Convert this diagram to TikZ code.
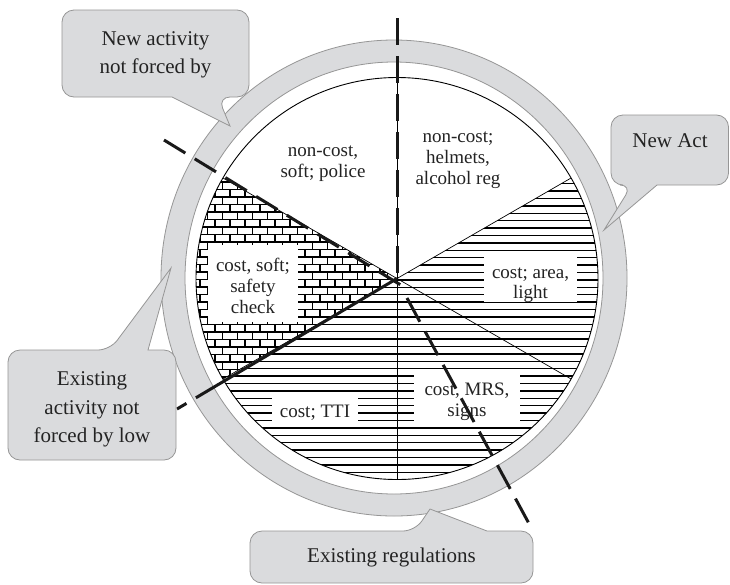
\documentclass[tikz,border=0pt]{standalone}
\usepackage{fontspec}
\setmainfont{Liberation Serif}
\begin{document}
\begin{tikzpicture}[x=1pt,y=-1pt]
\definecolor{ringfill}{RGB}{218,219,221}
\definecolor{ringdraw}{RGB}{150,150,150}
\definecolor{txt}{RGB}{35,35,35}
\definecolor{dashcol}{RGB}{25,25,25}
\tikzset{
 callout/.style={fill=ringfill, draw=ringdraw, line width=0.8pt},
 bigtext/.style={font=\fontsize{21}{28}\selectfont, text=txt, anchor=base, inner sep=0pt},
 pietext/.style={font=\fontsize{19}{21}\selectfont, text=txt, anchor=base, inner sep=0pt},
 whitebox/.style={fill=white, draw=none, inner sep=0pt},
 thinline/.style={line width=0.7pt, black},
 thickdash/.style={line width=3pt, dashcol, dash pattern=on 27pt off 11pt},
}
\useasboundingbox (0,0) rectangle (730,584);
\fill[white] (0,0) rectangle (730,584);
% ring
\path[fill=ringfill, even odd rule] (394,278) ellipse [x radius=233, y radius=238] (394,278) ellipse [x radius=209, y radius=216];
\draw[ringdraw, line width=0.8pt] (394,278) ellipse [x radius=233, y radius=238];
\draw[ringdraw, line width=0.8pt] (394,278) ellipse [x radius=209, y radius=216];
% pie
\coordinate (C) at (397,278.5);
\fill[white] (C) circle (201);
\begin{scope}
\clip (C) -- ++(-30:201) arc (-30:150:201) -- cycle;
\foreach \k in {0,...,45} \draw[line width=1.5pt] (180, 168.9+7.4*\k) -- (620, 168.9+7.4*\k);
\end{scope}
\begin{scope}
\clip (C) -- ++(-150:201) arc (-150:-210:201) -- cycle;
\foreach \k in {-2,...,27} {
 \draw[line width=1.5pt] (180, 189.3+7.5*\k) -- (420, 189.3+7.5*\k);
 \pgfmathsetmacro\off{mod(\k+20,2)*7.5}
 \foreach \j in {-2,...,16} \draw[line width=1.5pt] (185+\off+15*\j, 189.3+7.5*\k) -- ++(0,7.5);
}
\end{scope}
\draw[line width=0.9pt] (C) circle (201);
\draw[thinline] (C) -- ++(-90:201);
\draw[thinline] (C) -- ++(90:201);
\draw[thinline] (C) -- ++(-150:201);
\draw[thinline] (C) -- ++(-30:201);
\draw[thinline] (C) -- ++(150:201);
\draw[thinline] (C) -- ++(30:201);
% white label boxes
\node[whitebox, minimum width=93, minimum height=45] (bArea) at (530.5,279.5) {};
\node[whitebox, minimum width=90, minimum height=77] (bSafety) at (253,283.5) {};
\node[whitebox, minimum width=86, minimum height=24] (bTTI) at (315,410) {};
\node[whitebox, minimum width=106, minimum height=52] (bMRS) at (467,398) {};
% pie labels
\node[pietext] (tPol1) at (323,156) {non-cost,};
\node[pietext] (tPol2) at (323,177) {soft; police};
\node[pietext] (tHel1) at (458,142) {non-cost;};
\node[pietext] (tHel2) at (458,163) {helmets,};
\node[pietext] (tHel3) at (458,184) {alcohol reg};
\node[pietext] (tArea1) at (530.5,278) {cost; area,};
\node[pietext] (tArea2) at (530.5,298) {light};
\node[pietext] (tSaf1) at (253,271) {cost, soft;};
\node[pietext] (tSaf2) at (253,292) {safety};
\node[pietext] (tSaf3) at (253,313) {check};
\node[pietext] (tTTI) at (315,417) {cost; TTI};
\node[pietext] (tMRS1) at (467,395) {cost, MRS,};
\node[pietext] (tMRS2) at (467,416) {signs};
% thick dashed lines
\coordinate (vTop) at (397,18);
\coordinate (vEnd) at (397,283);
\draw[thickdash] (vTop) -- (vEnd);
\coordinate (ulA) at (164,140);
\coordinate (ulB) at (404,287);
\draw[thickdash, dash pattern=on 25pt off 11pt] (ulA) -- (ulB);
\coordinate (llA) at (177,409);
\draw[thickdash, dash pattern=on 11pt off 11pt on 300pt off 10pt] (llA) -- (C);
\coordinate (lrA) at (407,298);
\coordinate (lrB) at (533,531);
\draw[thickdash] (lrA) -- (lrB);
% callouts
\path[callout] (62,50) [rounded corners=12] -- (62,10) -- (249,10) -- (249,97) -- (218,97) [sharp corners] -- (230,126) -- (172,97) [rounded corners=12] -- (62,97) -- cycle;
\path[callout] (728.5,150) [rounded corners=12] -- (728.5,115) -- (611,115) -- (611,185) -- (632,185) [sharp corners] -- (604,230) -- (657,185) [rounded corners=12] -- (728.5,185) -- cycle;
\path[callout] (8,405) [rounded corners=12] -- (8,350) -- (110,350) [sharp corners] -- (171,268) -- (148,350) [rounded corners=12] -- (176,350) -- (176,460) -- (8,460) -- cycle;
\path[callout] (250,556) [rounded corners=12] -- (250,531) -- (415,531) [sharp corners] -- (430,509) -- (487,531) [rounded corners=12] -- (533,531) -- (533,583) -- (250,583) -- cycle;
% callout texts
\node[bigtext] (cNew1) at (155.5,45) {New activity};
\node[bigtext] (cNew2) at (155.5,73) {not forced by};
\node[bigtext] (cAct) at (670,147) {New Act};
\node[bigtext] (cEx1) at (92,385) {Existing};
\node[bigtext] (cEx2) at (92,414) {activity not};
\node[bigtext] (cEx3) at (92,442) {forced by low};
\node[bigtext] (cReg) at (391.5,562) {Existing regulations};
\end{tikzpicture}
\end{document}
